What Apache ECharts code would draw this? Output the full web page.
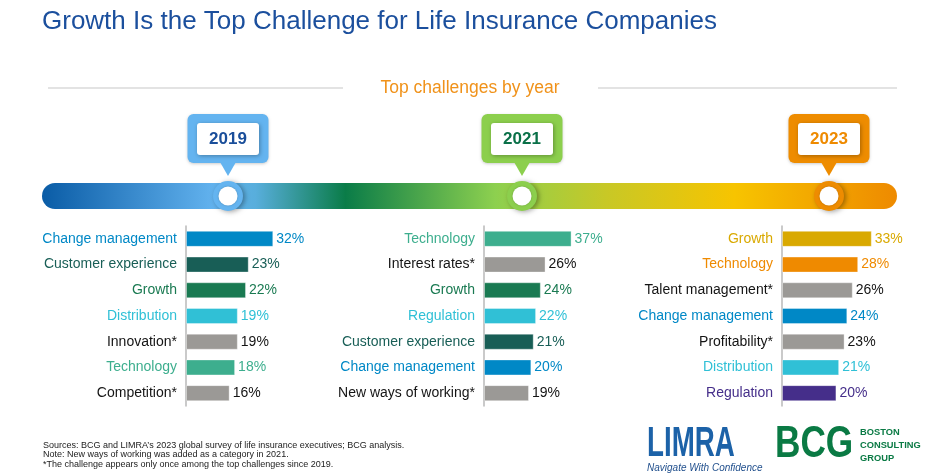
<!DOCTYPE html>
<html>
<head>
<meta charset="utf-8">
<script src="https://cdn.jsdelivr.net/npm/echarts@6/dist/echarts.min.js"></script>
<style>
html,body{margin:0;padding:0;background:#fff;}
#c{width:936px;height:475px;}
</style>
</head>
<body>
<div id="c"></div>
<script>
// ---- data ----
var years = ['2019', '2021', '2023'];
var cats2019 = ['Change management', 'Customer experience', 'Growth', 'Distribution', 'Innovation*', 'Technology', 'Competition*'];
var vals2019 = [32, 23, 22, 19, 19, 18, 16];
var cats2021 = ['Technology', 'Interest rates*', 'Growth', 'Regulation', 'Customer experience', 'Change management', 'New ways of working*'];
var vals2021 = [37, 26, 24, 22, 21, 20, 19];
var cats2023 = ['Growth', 'Technology', 'Talent management*', 'Change management', 'Profitability*', 'Distribution', 'Regulation'];
var vals2023 = [33, 28, 26, 24, 23, 21, 20];

// ---- styles ----
var GRAY = '#9b9996', INK = '#141414';
var cols2019 = ['#0088c6', '#185e56', '#1a7a52', '#30c0d6', GRAY, '#3dae8e', GRAY];
var cols2021 = ['#3dae8e', GRAY, '#1a7a52', '#30c0d6', '#185e56', '#0088c6', GRAY];
var cols2023 = ['#d9a900', '#ef8a00', GRAY, '#0088c6', GRAY, '#30c0d6', '#452e8a'];
function txt(c) { return c === GRAY ? INK : c; }

var FONT = '"Liberation Sans", Arial, sans-serif';
var groups = [
  {cats: cats2019, vals: vals2019, cols: cols2019, left: 186, max: 44.0},
  {cats: cats2021, vals: vals2021, cols: cols2021, left: 484, max: 50.7},
  {cats: cats2023, vals: vals2023, cols: cols2023, left: 782, max: 44.1}
];

var grid = [], xAxis = [], yAxis = [], series = [];
groups.forEach(function (g, i) {
  grid.push({left: g.left, top: 226, width: 120, height: 180, containLabel: false});
  xAxis.push({type: 'value', gridIndex: i, min: 0, max: g.max, show: false});
  yAxis.push({
    type: 'category', gridIndex: i, inverse: true, data: g.cats,
    axisLine: {show: true, lineStyle: {color: '#b8b8b8', width: 1.5}},
    axisTick: {show: false}, splitLine: {show: false},
    axisLabel: {
      margin: 9, fontSize: 14, fontFamily: FONT,
      color: function (v, idx) { return txt(g.cols[idx]); }
    }
  });
  series.push({
    type: 'bar', xAxisIndex: i, yAxisIndex: i, barWidth: 16,
    data: g.vals.map(function (v, k) {
      return {value: v, itemStyle: {color: g.cols[k]}, label: {color: txt(g.cols[k])}};
    }),
    itemStyle: {borderColor: 'rgba(255,255,255,0.35)', borderWidth: 1},
    label: {show: true, position: 'right', distance: 3, fontSize: 14, fontFamily: FONT, formatter: '{c}%'},
    silent: true
  });
});

// ---- decoration ----
var callouts = [
  {x: 228, box: '#64b4f0', text: '#1a4e9a'},
  {x: 522, box: '#8ccf4d', text: '#0a7048'},
  {x: 829, box: '#ee8c00', text: '#ee8a00'}
];
var graphic = [
  {type: 'text', left: 42, top: 9, style: {text: 'Growth Is the Top Challenge for Life Insurance Companies', font: '26px ' + FONT, fill: '#1b4f9d'}},
  {type: 'line', shape: {x1: 48, y1: 88, x2: 343, y2: 88}, style: {stroke: '#dadada', lineWidth: 1.5}},
  {type: 'line', shape: {x1: 598, y1: 88, x2: 897, y2: 88}, style: {stroke: '#dadada', lineWidth: 1.5}},
  {type: 'text', x: 470, y: 88, style: {text: 'Top challenges by year', font: '17.5px ' + FONT, fill: '#f0921a', textAlign: 'center', textVerticalAlign: 'middle'}},
  {type: 'rect', shape: {x: 42, y: 183, width: 855, height: 26, r: 13}, z: 1,
    style: {fill: {type: 'linear', x: 0, y: 0, x2: 1, y2: 0, colorStops: [
      {offset: 0, color: '#0a5ca6'},
      {offset: 0.2, color: '#62b2ee'},
      {offset: 0.25, color: '#58aedc'},
      {offset: 0.355, color: '#0a7c48'},
      {offset: 0.53, color: '#8dd04f'},
      {offset: 0.66, color: '#c8c826'},
      {offset: 0.81, color: '#f7c400'},
      {offset: 1, color: '#ee8a00'}
    ]}}}
];
callouts.forEach(function (c, i) {
  graphic.push({type: 'rect', z: 2, shape: {x: c.x - 40.5, y: 114, width: 81, height: 49, r: 6},
    style: {fill: c.box, shadowBlur: 3, shadowColor: 'rgba(0,0,0,0.2)', shadowOffsetY: 1}});
  graphic.push({type: 'polygon', z: 2, shape: {points: [[c.x - 8, 162], [c.x + 8, 162], [c.x, 176]]}, style: {fill: c.box}});
  graphic.push({type: 'rect', z: 3, shape: {x: c.x - 31, y: 123, width: 62, height: 32, r: 3},
    style: {fill: '#ffffff', shadowBlur: 4, shadowColor: 'rgba(0,0,0,0.3)', shadowOffsetX: 1, shadowOffsetY: 1}});
  graphic.push({type: 'text', z: 4, x: c.x, y: 139, style: {text: years[i], font: 'bold 17px ' + FONT, fill: c.text, textAlign: 'center', textVerticalAlign: 'middle'}});
  graphic.push({type: 'circle', z: 3, shape: {cx: c.x, cy: 196, r: 15},
    style: {fill: c.box, shadowBlur: 5, shadowColor: 'rgba(0,0,0,0.35)', shadowOffsetX: 2, shadowOffsetY: 1}});
  graphic.push({type: 'circle', z: 4, shape: {cx: c.x, cy: 196, r: 9.5},
    style: {fill: '#ffffff', shadowBlur: 2, shadowColor: 'rgba(0,0,0,0.25)'}});
});
graphic.push(
  {type: 'text', left: 43, top: 441, style: {
    text: "Sources: BCG and LIMRA\u2019s 2023 global survey of life insurance executives; BCG analysis.\nNote: New ways of working was added as a category in 2021.\n*The challenge appears only once among the top challenges since 2019.",
    font: '9px ' + FONT, fill: '#222222', lineHeight: 9.3}},
  {type: 'text', x: 647, y: 444, scaleX: 0.66, style: {text: 'LIMRA', font: 'bold 42px ' + FONT, fill: '#1c62a8', textVerticalAlign: 'middle'}},
  {type: 'text', x: 647, y: 468, style: {text: 'Navigate With Confidence', font: 'italic 10px ' + FONT, fill: '#1f4e8c', textVerticalAlign: 'middle'}},
  {type: 'text', x: 775, y: 445, scaleX: 0.8, style: {text: 'BCG', font: 'bold 44px ' + FONT, fill: '#0a7a44', textVerticalAlign: 'middle'}},
  {type: 'text', top: 426, left: 860, style: {text: 'BOSTON\nCONSULTING\nGROUP', font: 'bold 9.3px ' + FONT, fill: '#0a7a44', lineHeight: 13}}
);

var chart = echarts.init(document.getElementById('c'), null, {renderer: 'canvas'});
chart.setOption({
  animation: false,
  backgroundColor: '#ffffff',
  textStyle: {fontFamily: FONT},
  grid: grid, xAxis: xAxis, yAxis: yAxis, series: series,
  graphic: graphic
});
</script>
</body>
</html>
